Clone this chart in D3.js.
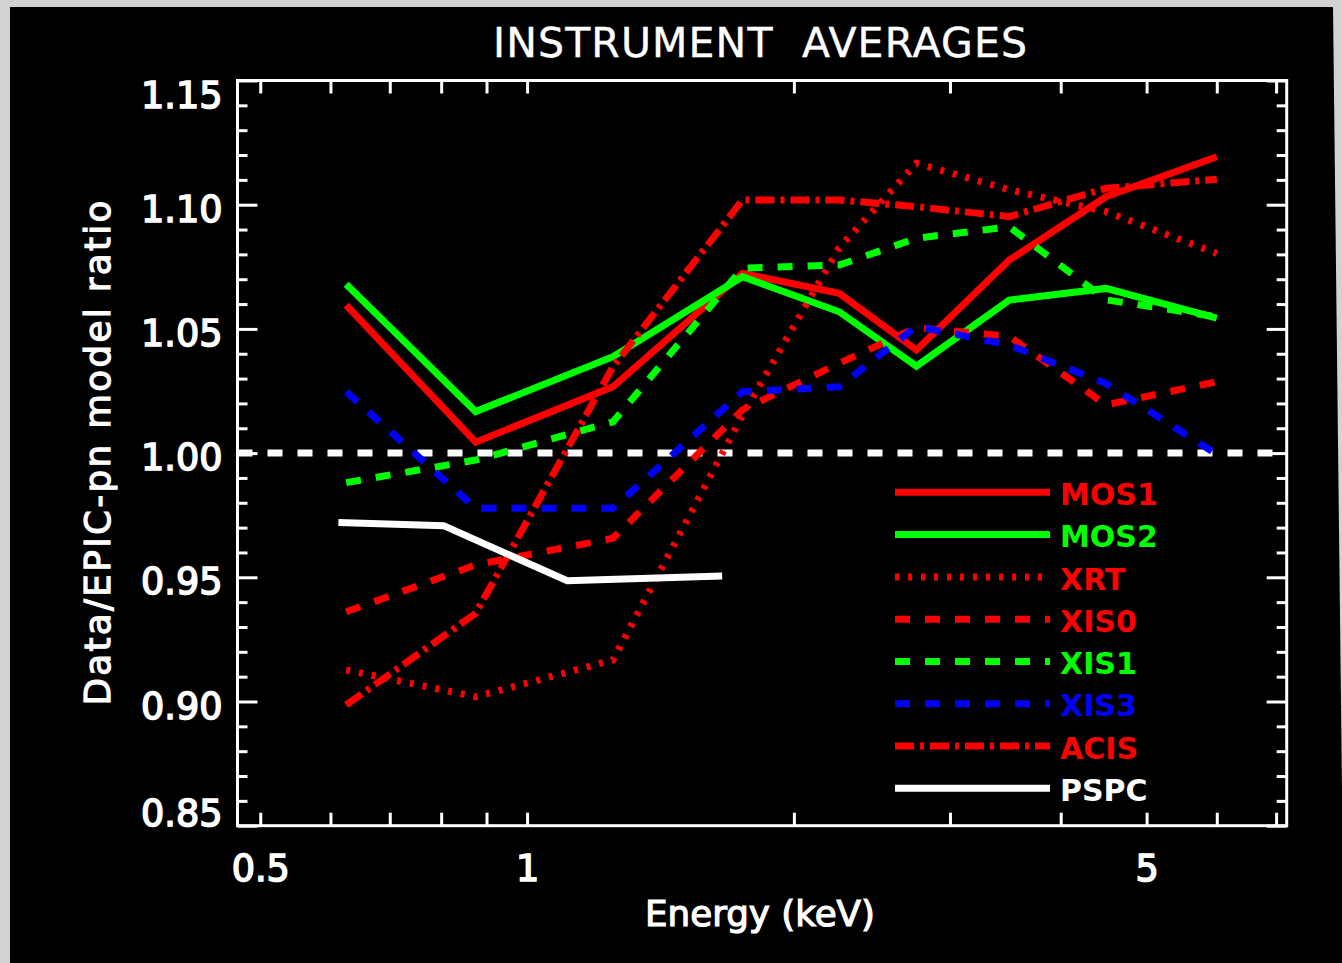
<!DOCTYPE html>
<html>
<head>
<meta charset="utf-8">
<script src="https://cdn.jsdelivr.net/npm/d3@7"></script>
<style>
  body { margin: 0; background: #d2d2d2; }
  text { font-family: "DejaVu Sans", sans-serif; fill: #fff; }
</style>
</head>
<body>
<div id="container"></div>
<script>
/* DATA */
const energies = [0.625, 0.875, 1.25, 1.75, 2.25, 2.75, 3.5, 4.5, 6.0];
const pspcEnergies = [0.6125, 0.805, 1.11, 1.66];

const mos1 = [1.0596, 1.0044, 1.0267, 1.0724, 1.0643, 1.0415, 1.0777, 1.1032, 1.1193];
const mos2 = [1.068, 1.0167, 1.0388, 1.071, 1.0569, 1.035, 1.0616, 1.0663, 1.0543];
const xrt  = [0.9127, 0.9019, 0.9167, 1.0153, 1.0827, 1.1167, 1.106, 1.0972, 1.0804];
const xis0 = [0.9361, 0.955, 0.9657, 1.0174, 1.0362, 1.0505, 1.047, 1.0194, 1.0287];
const xis1 = [0.9881, 0.9972, 1.0126, 1.0744, 1.0757, 1.0865, 1.0911, 1.0617, 1.0549];
const xis3 = [1.0247, 0.9778, 0.9778, 1.0247, 1.0267, 1.051, 1.0435, 1.028, 0.9995];
const acis = [0.8986, 0.9355, 1.0348, 1.1019, 1.1019, 1.0992, 1.0952, 1.1066, 1.1102];
const pspc = [0.9721, 0.9708, 0.9486, 0.9505];

const instruments = ["MOS1", "MOS2", "XRT", "XIS0", "XIS1", "XIS3", "ACIS", "PSPC"];

const yMajor = [0.85, 0.90, 0.95, 1.00, 1.05, 1.10, 1.15];
const yMinor = d3.range(85, 116).map(d => d / 100).filter(d => !yMajor.some(m => Math.abs(m - d) < 1e-9));
const xTicks = [0.5, 0.6, 0.7, 0.8, 0.9, 1, 2, 3, 4, 5, 6, 7];
const xLabels = { 0.5: "0.5", 1: "1", 5: "5" };

/* STYLES */
const styles = {
  MOS1: { color: "#ff0000", dash: null },
  MOS2: { color: "#00ff00", dash: null },
  XRT:  { color: "#ff0000", dash: "4,9" },
  XIS0: { color: "#ff0000", dash: "15,15" },
  XIS1: { color: "#00ff00", dash: "15,15" },
  XIS3: { color: "#0000ff", dash: "15,15" },
  ACIS: { color: "#ff0000", dash: "19,6,4,6" },
  PSPC: { color: "#ffffff", dash: null }
};

const series = [
  { name: "MOS1", e: energies, v: mos1 },
  { name: "MOS2", e: energies, v: mos2 },
  { name: "XRT",  e: energies, v: xrt },
  { name: "XIS0", e: energies, v: xis0 },
  { name: "XIS1", e: energies, v: xis1 },
  { name: "XIS3", e: energies, v: xis3 },
  { name: "ACIS", e: energies, v: acis },
  { name: "PSPC", e: pspcEnergies, v: pspc }
];

/* LAYOUT */
const width = 1342, height = 963;
const plot = { left: 237.5, right: 1286.7, top: 80.5, bottom: 825.7 };

const svg = d3.select('#container').append('svg')
  .attr('width', width).attr('height', height)
  .style('display', 'block');

// black panel on the grey slide
svg.append('polygon')
  .attr('points', `10,7 1333,7 1344,963 10,963`)
  .attr('fill', '#000');

/* SCALES */
const xScale = d3.scaleLog().domain([0.4713, 7.195]).range([plot.left, plot.right]);
const yScale = d3.scaleLinear().domain([0.85, 1.15]).range([plot.bottom, plot.top]);

/* AXES */
function styleAxis(g) {
  g.select('.domain').remove();
  g.selectAll('.tick line').attr('stroke', '#fff').attr('stroke-width', 3);
}

// left: major + minor
const left = svg.append('g').attr('transform', `translate(${plot.left},0)`)
  .call(d3.axisLeft(yScale).tickValues(yMajor).tickSizeInner(-20).tickSizeOuter(0)
    .tickPadding(15).tickFormat(d3.format('.2f')))
  .call(styleAxis);
left.selectAll('.tick text')
  .attr('dy', null)
  .attr('y', d => {
    const base = Math.min(Math.max(yScale(d) + 16.5, plot.top + 26.7), plot.bottom);
    return base - yScale(d);
  })
  .attr('font-size', 36.6)
  .attr('stroke', '#fff').attr('stroke-width', 1.6)
  .attr('fill', '#fff');

svg.append('g').attr('transform', `translate(${plot.left},0)`)
  .call(d3.axisLeft(yScale).tickValues(yMinor).tickSize(-10).tickFormat(''))
  .call(styleAxis);

// right
svg.append('g').attr('transform', `translate(${plot.right},0)`)
  .call(d3.axisRight(yScale).tickValues(yMajor).tickSize(-20).tickFormat(''))
  .call(styleAxis);
svg.append('g').attr('transform', `translate(${plot.right},0)`)
  .call(d3.axisRight(yScale).tickValues(yMinor).tickSize(-10).tickFormat(''))
  .call(styleAxis);

// bottom
const bottom = svg.append('g').attr('transform', `translate(0,${plot.bottom})`)
  .call(d3.axisBottom(xScale).tickValues(xTicks).tickSize(-13).tickPadding(0)
    .tickFormat(d => xLabels[d] || ''))
  .call(styleAxis);
bottom.selectAll('.tick text')
  .attr('dy', null)
  .attr('y', 881 - plot.bottom)
  .attr('font-size', 36.6)
  .attr('stroke', '#fff').attr('stroke-width', 1.6)
  .attr('fill', '#fff');

// top
svg.append('g').attr('transform', `translate(0,${plot.top})`)
  .call(d3.axisTop(xScale).tickValues(xTicks).tickSize(-13).tickFormat(''))
  .call(styleAxis);

// frame
svg.append('rect')
  .attr('x', plot.left).attr('y', plot.top)
  .attr('width', plot.right - plot.left).attr('height', plot.bottom - plot.top)
  .attr('fill', 'none').attr('stroke', '#fff').attr('stroke-width', 3);

// unity reference line
svg.append('line')
  .attr('x1', plot.left).attr('x2', plot.right)
  .attr('y1', yScale(1)).attr('y2', yScale(1))
  .attr('stroke', '#fff').attr('stroke-width', 7)
  .attr('stroke-dasharray', '15,15');

/* LINES */
const line = d3.line().x(d => xScale(d[0])).y(d => yScale(d[1]));

svg.append('g').selectAll('path')
  .data(series)
  .join('path')
  .attr('d', s => line(d3.zip(s.e, s.v)))
  .attr('fill', 'none')
  .attr('stroke', s => styles[s.name].color)
  .attr('stroke-width', 7)
  .attr('stroke-linejoin', 'miter')
  .attr('stroke-dasharray', s => styles[s.name].dash);

/* LEGEND */
const legend = svg.append('g');
const legendRow = d3.scaleBand().domain(instruments).range([471.2, 809.4]);
const rows = legend.selectAll('g')
  .data(instruments)
  .join('g')
  .attr('transform', d => `translate(0,${legendRow(d) + legendRow.bandwidth() / 2})`);
rows.append('line')
  .attr('x1', 895).attr('x2', 1050)
  .attr('stroke', d => styles[d].color)
  .attr('stroke-width', 7)
  .attr('stroke-dasharray', d => styles[d].dash);
rows.append('text')
  .attr('x', 1060).attr('y', 12.7)
  .attr('font-size', 30)
  .attr('font-weight', 'bold')
  .style('fill', d => styles[d].color)
  .text(d => d);

/* TITLES */
svg.append('text')
  .attr('x', 760).attr('y', 56.7)
  .attr('text-anchor', 'middle')
  .attr('font-size', 41)
  .attr('textLength', 534).attr('lengthAdjust', 'spacing')
  .attr('stroke', '#fff').attr('stroke-width', 0.4)
  .style('white-space', 'pre')
  .text('INSTRUMENT  AVERAGES');

svg.append('text')
  .attr('x', 760).attr('y', 926)
  .attr('text-anchor', 'middle')
  .attr('font-size', 35.7)
  .attr('stroke', '#fff').attr('stroke-width', 1.2)
  .text('Energy (keV)');

svg.append('text')
  .attr('transform', `translate(110,${yScale(1)}) rotate(-90)`)
  .attr('text-anchor', 'middle')
  .attr('font-size', 35.7)
  .attr('textLength', 505).attr('lengthAdjust', 'spacing')
  .attr('stroke', '#fff').attr('stroke-width', 1.2)
  .text('Data/EPIC-pn model ratio');
</script>
</body>
</html>
